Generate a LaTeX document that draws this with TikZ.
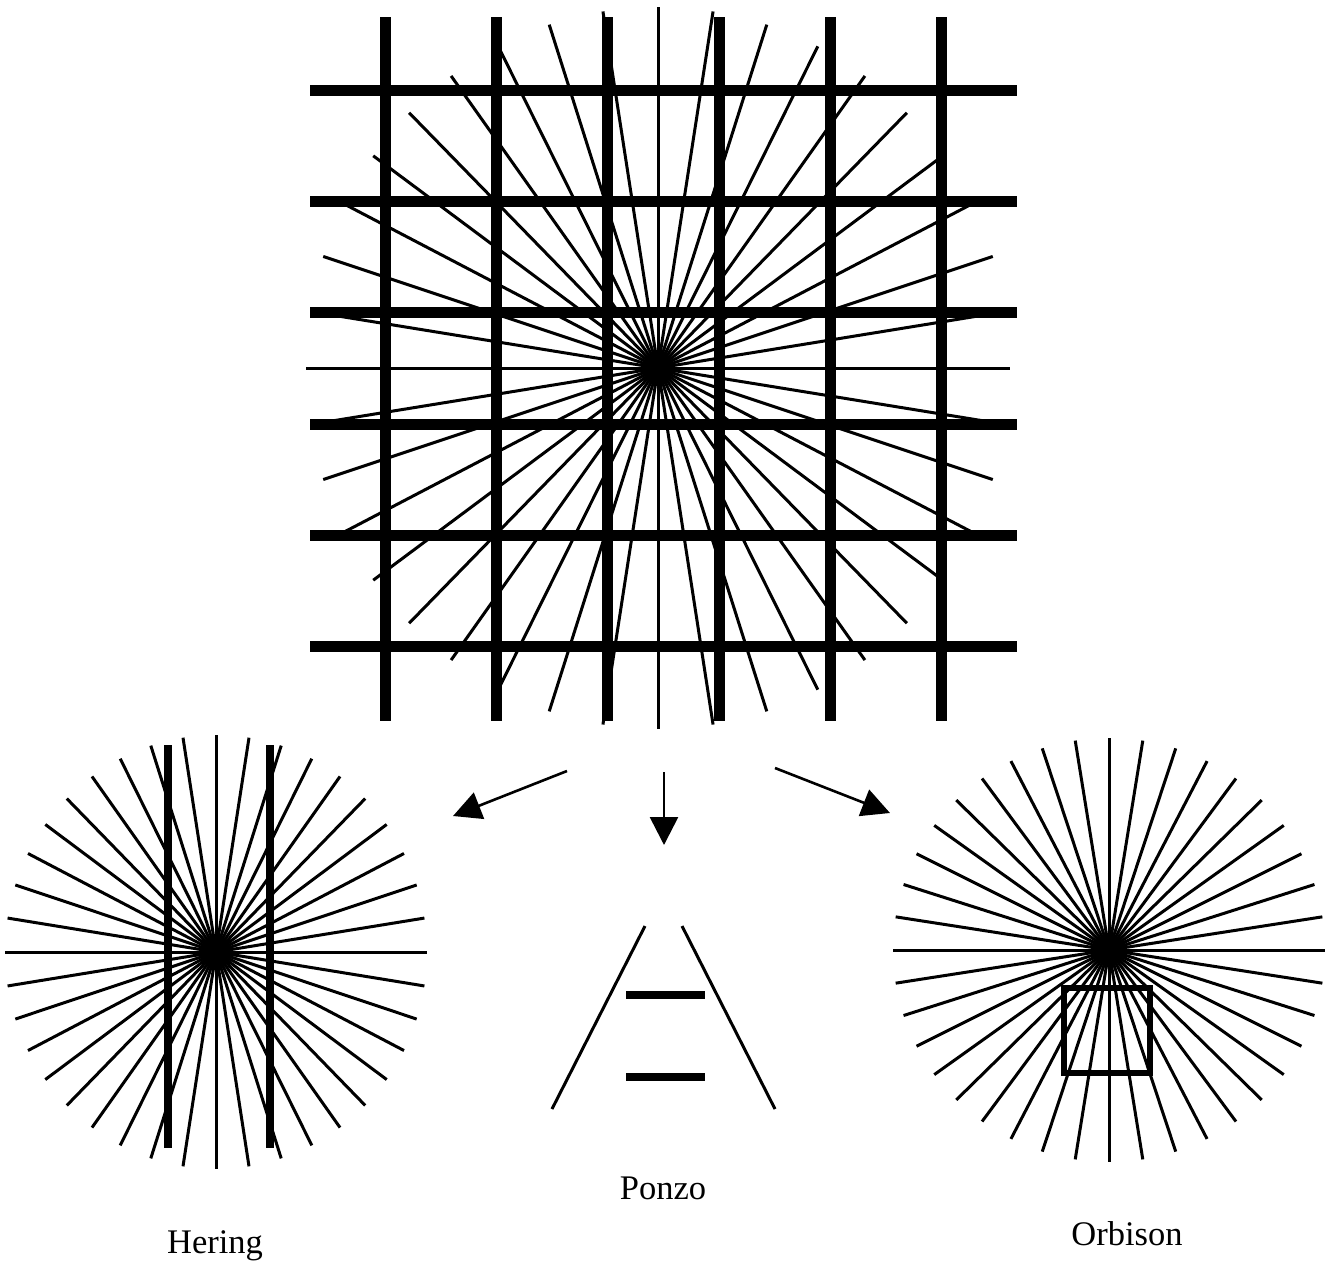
\documentclass[tikz,border=0pt]{standalone}
\usepackage{fontspec}
\setmainfont{Liberation Serif}
\usetikzlibrary{arrows.meta}
\begin{document}
\begin{tikzpicture}[x=1pt,y=-1pt,
  ray/.style={line width=3pt},
  gridbar/.style={line width=11pt},
  heringbar/.style={line width=8pt},
  ponzoline/.style={line width=3pt},
  ponzobar/.style={line width=8pt},
  orbsq/.style={line width=6pt},
  arr/.style={line width=2.6pt,-{Triangle[length=28pt,width=28pt]}},
  lbl/.style={font=\fontsize{34.5}{40}\selectfont, inner sep=0pt, anchor=base}
]
\useasboundingbox (0,0) rectangle (1335,1269);

% ---------- top: grid over starburst ----------
\coordinate (topc) at (658,368);
\foreach \a in {0,9,...,351} {
  \draw[ray] (topc) -- ++({352*cos(\a)},{361*sin(\a)});
}
\foreach \i in {0,...,5} {
  \draw[gridbar] ({385.5+111.2*\i},17) -- ({385.5+111.2*\i},721);
  \draw[gridbar] (310,{90.5+111.2*\i}) -- (1017,{90.5+111.2*\i});
}

% ---------- arrows ----------
\coordinate (a1s) at (567,771);
\coordinate (a1e) at (453,816);
\coordinate (a2s) at (664,772);
\coordinate (a2e) at (664,845);
\coordinate (a3s) at (775,768);
\coordinate (a3e) at (890,813);
\draw[arr] (a1s) -- (a1e);
\draw[arr] (a2s) -- (a2e);
\draw[arr] (a3s) -- (a3e);

% ---------- Hering ----------
\coordinate (herc) at (216,952);
\foreach \a in {0,9,...,351} {
  \draw[ray] (herc) -- ++({211*cos(\a)},{217*sin(\a)});
}
\draw[heringbar] (168,745) -- (168,1148);
\draw[heringbar] (270,745) -- (270,1148);
\node[lbl] (hering) at (215,1253) {Hering};

% ---------- Ponzo ----------
\draw[ponzoline] (645,926) -- (552,1109);
\draw[ponzoline] (682,926) -- (775,1109);
\draw[ponzobar] (626,994.7) -- (705,994.7);
\draw[ponzobar] (626,1077) -- (705,1077);
\node[lbl] (ponzo) at (663,1199) {Ponzo};

% ---------- Orbison ----------
\coordinate (orbc) at (1109,950);
\foreach \a in {0,9,...,351} {
  \draw[ray] (orbc) -- ++({216*cos(\a)},{212*sin(\a)});
}
\draw[orbsq] (1063.5,988) rectangle (1150,1073);
\node[lbl] (orbison) at (1127,1245) {Orbison};
\end{tikzpicture}
\end{document}
